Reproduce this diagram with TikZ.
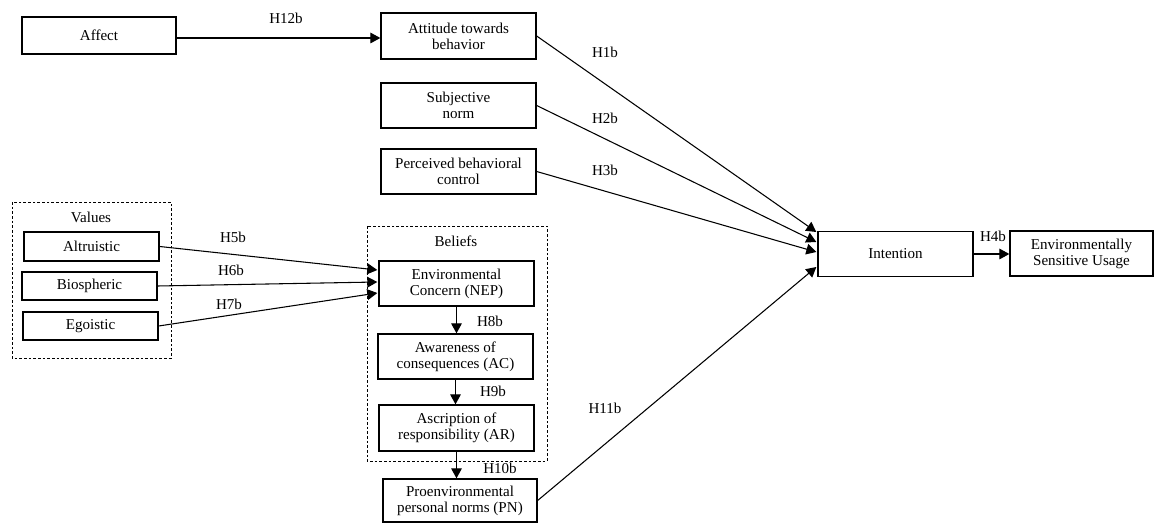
\documentclass[tikz,border=0pt]{standalone}
\usepackage{fontspec}
\setmainfont{Liberation Serif}
\usetikzlibrary{arrows.meta,calc}

\begin{document}
\begin{tikzpicture}[x=0.75pt,y=-0.75pt,
    font=\fontsize{11.3}{12}\selectfont,
    box/.style={draw,line width=1pt,align=center,inner sep=0pt,
        minimum width=116.25pt,minimum height=33.75pt},
    group/.style={draw,line width=0.6pt,dash pattern=on 2pt off 1.5pt},
    link/.style={line width=0.8pt,-{Triangle[length=7.5pt,width=8pt]}}]
    \useasboundingbox (0,0) rectangle (1154,523);

    % theory of planned behaviour
    \node [box,minimum width=115.5pt,minimum height=27.75pt] (affect) at (99,35.5) {Affect};
    \node [box,minimum height=34.5pt] (attitude)   at (458.5,36)    {Attitude towards\\behavior};
    \node [box] (subjective) at (458.5,105.5) {Subjective\\norm};
    \node [box] (perceived)  at (458.5,171.5) {Perceived behavioral\\control};
    \node [box] (intention)  at (895.5,254)   {Intention};
    \node [box,minimum width=107.25pt] (usage) at (1081.5,253.5) {Environmentally\\Sensitive Usage};

    % values
    \draw [group] (12,202) rectangle (171,358);
    \node (values) at (91,217) {Values};
    \node [box,minimum width=101.25pt,minimum height=21.75pt] (altruistic) at (91.5,246.5) {Altruistic};
    \node [box,minimum width=101.25pt,minimum height=21pt]    (biospheric) at (89.5,286)   {Biospheric};
    \node [box,minimum width=101.25pt,minimum height=21pt]    (egoistic)   at (90.5,326)   {Egoistic};

    % beliefs
    \draw [group] (367,226) rectangle (547,461);
    \node (beliefs) at (456,241) {Beliefs};
    \node [box] (nep) at (456.5,283.5) {Environmental\\Concern (NEP)};
    \node [box] (ac)  at (455.5,356.5) {Awareness of\\consequences (AC)};
    \node [box,minimum height=34.5pt] (ar) at (456.5,428) {Ascription of\\responsibility (AR)};
    \node [box,minimum width=115.5pt,minimum height=32.25pt] (pn) at (460,500.5) {Proenvironmental\\personal norms (PN)};

    % paths
    \draw [link] (affect.east |- 0,38) -- (attitude.west |- 0,38);
    \draw [link] (attitude.east)   -- ($(intention.west)+(-1,-22)$);
    \draw [link] (subjective.east) -- ($(intention.west)+(-1,-12)$);
    \draw [link] (perceived.east)  -- ($(intention.west)+(-1,-2)$);
    \draw [link] (pn.east)         -- ($(intention.west)+(-1,13)$);
    \draw [link] (intention.east)  -- (intention.east -| usage.west);

    \draw [link] (altruistic.east) -- ($(nep.west)+(-1,-13.5)$);
    \draw [link] (biospheric.east) -- ($(nep.west)+(-1,-1.5)$);
    \draw [link] (egoistic.east)   -- ($(nep.west)+(-1,9.5)$);

    \draw [link] (nep.south) -- (nep.south |- ac.north);
    \draw [link] (ac.south)  -- (ac.south |- ar.north);
    \draw [link] (ar.south)  -- (ar.south |- pn.north);

    % hypotheses
    \node (h12b) at (286,18)  {H12b};
    \node (h1b)  at (605,52)  {H1b};
    \node (h2b)  at (605,118) {H2b};
    \node (h3b)  at (605,170) {H3b};
    \node (h4b)  at (993,236) {H4b};
    \node (h5b)  at (233,237) {H5b};
    \node (h6b)  at (231,270) {H6b};
    \node (h7b)  at (229,304) {H7b};
    \node (h8b)  at (490,321) {H8b};
    \node (h9b)  at (493,391) {H9b};
    \node (h10b) at (500,468) {H10b};
    \node (h11b) at (605,408) {H11b};
\end{tikzpicture}
\end{document}
